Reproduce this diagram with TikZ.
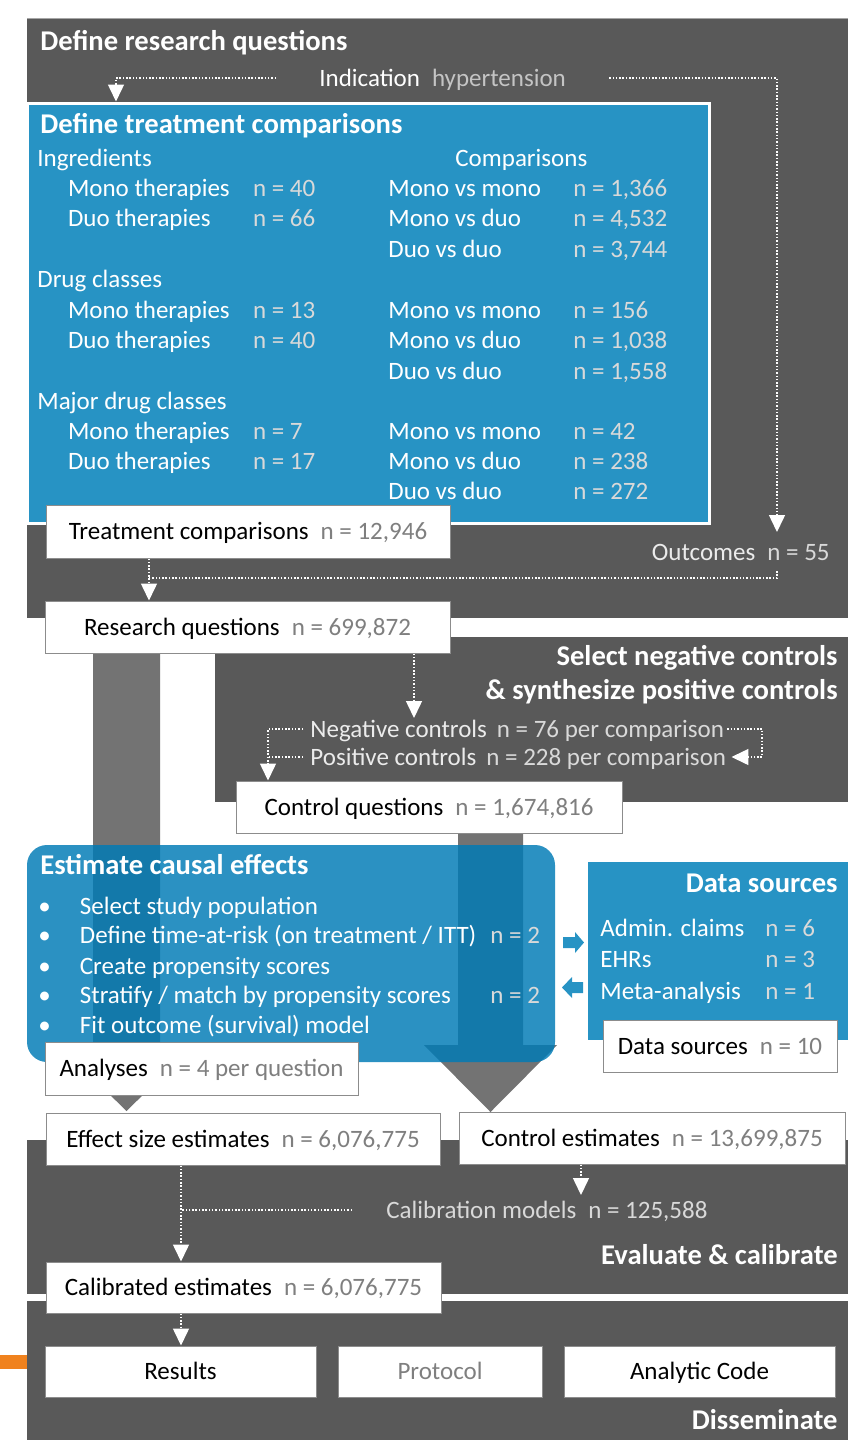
\documentclass[tikz,border=0pt]{standalone}
\usepackage{fontspec}
\setmainfont{Carlito}
\usetikzlibrary{arrows.meta,calc}
\definecolor{panelgray}{HTML}{595959}
\definecolor{tblue}{RGB}{39,147,196}
\definecolor{eblue}{RGB}{0,123,182}
\definecolor{bargray}{HTML}{737373}
\definecolor{ngray}{HTML}{7F7F7F}
\definecolor{lgray}{HTML}{D9D9D9}
\definecolor{lgrayb}{HTML}{C4C4C4}
\definecolor{borderg}{HTML}{8C8C8C}
\definecolor{toplinegray}{HTML}{A6A6A6}
\definecolor{orng}{HTML}{F0821E}
\begin{document}
\begin{tikzpicture}[x=0.5pt,y=-0.5pt,
  every node/.style={font=\fontsize{12.5}{14}\selectfont, inner sep=0pt, text height=0.8em, text depth=0pt},
  lbl/.style={anchor=west, text=white},
  lblr/.style={anchor=east, text=white},
  hd/.style={font=\fontsize{14.3}{16}\selectfont\bfseries, text=white},
  nv/.style={anchor=west, text=lgray},
  wbox/.style={draw=borderg, line width=0.5pt, fill=white, text=black},
  darr/.style={draw=white, line width=0.75pt, dash pattern=on 0.75pt off 0.9pt, -{Triangle[width=8pt,length=8.5pt]}},
  dline/.style={draw=white, line width=0.75pt, dash pattern=on 0.75pt off 0.9pt},
  panel/.style={fill=panelgray},
]
\useasboundingbox (0,0) rectangle (848,1440);

% ---------- panels ----------
\fill[panel] (27,18) rectangle (848,618);
\draw[toplinegray, line width=0.5pt] (27,18) -- (848,18);
\fill[panel] (215,637) rectangle (848,802);
\fill[panel] (27,1140) rectangle (848,1294);
\fill[panel] (27,1301) rectangle (848,1440);
\fill[orng] (0,1355) rectangle (27,1369);

% ---------- wide gray arrows ----------
\fill[bargray] (93,653) -- (160,653) -- (160,1046) -- (193,1046) -- (126.5,1111) -- (60,1046) -- (93,1046) -- cycle;
\fill[bargray] (458,833) -- (523,833) -- (523,1045) -- (557,1045) -- (490.5,1112) -- (424,1045) -- (458,1045) -- cycle;

% ---------- blue boxes ----------
\node[fill=tblue, draw=white, line width=1.5pt, minimum width=341pt, minimum height=210pt] (tbox) at (368,313) {};
\node[fill=eblue, fill opacity=0.83, rounded corners=10pt, minimum width=264pt, minimum height=108.5pt] (ebox) at (291,953.5) {};
\node[fill=tblue, minimum width=130pt, minimum height=89pt] (dbox) at (718,951) {};

% block arrows between estimate box and data sources
\fill[tblue] (563,937) -- (575,937) -- (575,932) -- (584,942.5) -- (575,953) -- (575,948) -- (563,948) -- cycle;
\fill[tblue] (583,982) -- (572,982) -- (572,977) -- (562,987.5) -- (572,998) -- (572,993) -- (583,993) -- cycle;

% ---------- panel 1 ----------
\node[hd, anchor=west] (t1) at (40,42) {Define research questions};
\node[lbl] (ind) at (319,78) {Indication\hspace{6pt}\textcolor{lgrayb}{hypertension}};
\node[hd, anchor=west] (t2) at (40,125) {Define treatment comparisons};
\node[lbl] (ing) at (37,158) {Ingredients};
\node[lbl] (cmp) at (455,158) {Comparisons};

\node[lbl] (a1) at (67.6,188) {Mono therapies};
\node[nv] (a1n) at (252.6,188) {n = 40};
\node[lbl] (b1) at (388,188) {Mono vs mono};
\node[nv] (b1n) at (573,188) {n = 1,366};
\node[lbl] (a2) at (67.6,218) {Duo therapies};
\node[nv] (a2n) at (252.6,218) {n = 66};
\node[lbl] (b2) at (388,218) {Mono vs duo};
\node[nv] (b2n) at (573,218) {n = 4,532};
\node[lbl] (b3) at (388,249) {Duo vs duo};
\node[nv] (b3n) at (573,249) {n = 3,744};

\node[lbl] (dcl) at (37,279) {Drug classes};
\node[lbl] (a4) at (67.6,310) {Mono therapies};
\node[nv] (a4n) at (252.6,310) {n = 13};
\node[lbl] (b4) at (388,310) {Mono vs mono};
\node[nv] (b4n) at (573,310) {n = 156};
\node[lbl] (a5) at (67.6,340) {Duo therapies};
\node[nv] (a5n) at (252.6,340) {n = 40};
\node[lbl] (b5) at (388,340) {Mono vs duo};
\node[nv] (b5n) at (573,340) {n = 1,038};
\node[lbl] (b6) at (388,371) {Duo vs duo};
\node[nv] (b6n) at (573,371) {n = 1,558};

\node[lbl] (mdc) at (37,401) {Major drug classes};
\node[lbl] (a7) at (67.6,431) {Mono therapies};
\node[nv] (a7n) at (252.6,431) {n = 7};
\node[lbl] (b7) at (388,431) {Mono vs mono};
\node[nv] (b7n) at (573,431) {n = 42};
\node[lbl] (a8) at (67.6,461) {Duo therapies};
\node[nv] (a8n) at (252.6,461) {n = 17};
\node[lbl] (b8) at (388,461) {Mono vs duo};
\node[nv] (b8n) at (573,461) {n = 238};
\node[lbl] (b9) at (388,491) {Duo vs duo};
\node[nv] (b9n) at (573,491) {n = 272};

\node[wbox, minimum width=202pt, minimum height=26.5pt] (tc) at (248,531.5) {Treatment comparisons\hspace{6pt}\textcolor{ngray}{n = 12,946}};
\node[lblr, text=lgray] (oc) at (830,552) {\textcolor{white!92!black}{Outcomes}\hspace{6pt}n = 55};
\node[wbox, minimum width=202.5pt, minimum height=26pt] (rq) at (247.5,627) {Research questions\hspace{6pt}\textcolor{ngray}{n = 699,872}};

% ---------- panel 2 ----------
\node[hd, anchor=east] (t3) at (838,657) {Select negative controls};
\node[hd, anchor=east] (t4) at (838,691) {\& synthesize positive controls};
\node[lbl] (negc) at (310,729) {\textcolor{white!92!black}{Negative controls}\hspace{5pt}\textcolor{lgray}{n = 76 per comparison}};
\node[lbl] (posc) at (310,757) {\textcolor{white!92!black}{Positive controls}\hspace{5pt}\textcolor{lgray}{n = 228 per comparison}};
\node[wbox, minimum width=193pt, minimum height=26pt] (cq) at (429,807) {Control questions\hspace{6pt}\textcolor{ngray}{n = 1,674,816}};

% ---------- estimate causal effects ----------
\node[hd, anchor=west] (t5) at (40,866) {Estimate causal effects};
\node[lbl] (u1) at (38,906) {\textbullet};
\node[lbl] (s1) at (79.5,906) {Select study population};
\node[lbl] (u2) at (38,935) {\textbullet};
\node[lbl] (s2) at (79.5,935) {Define time-at-risk (on treatment / ITT)};
\node[nv] (s2n) at (490,935) {n = 2};
\node[lbl] (u3) at (38,966) {\textbullet};
\node[lbl] (s3) at (79.5,966) {Create propensity scores};
\node[lbl] (u4) at (38,995) {\textbullet};
\node[lbl] (s4) at (79.5,995) {Stratify / match by propensity scores};
\node[nv] (s4n) at (490,995) {n = 2};
\node[lbl] (u5) at (38,1025) {\textbullet};
\node[lbl] (s5) at (79.5,1025) {Fit outcome (survival) model};
\node[wbox, minimum width=156.5pt, minimum height=26.5pt] (an) at (201.5,1068.5) {Analyses\hspace{6pt}\textcolor{ngray}{n = 4 per question}};

% ---------- data sources ----------
\node[hd, anchor=east] (t6) at (838,884) {Data sources};
\node[lbl] (d1) at (600,928) {Admin. claims};
\node[nv] (d1n) at (765,928) {n = 6};
\node[lbl] (d2) at (600,959) {EHRs};
\node[nv] (d2n) at (765,959) {n = 3};
\node[lbl] (d3) at (600,991) {Meta-analysis};
\node[nv] (d3n) at (765,991) {n = 1};
\node[wbox, minimum width=117pt, minimum height=26pt] (dsn) at (720,1046) {Data sources\hspace{6pt}\textcolor{ngray}{n = 10}};

% ---------- evaluate & calibrate ----------
\node[wbox, minimum width=197pt, minimum height=26pt] (es) at (243,1139) {Effect size estimates\hspace{6pt}\textcolor{ngray}{n = 6,076,775}};
\node[wbox, minimum width=193pt, minimum height=26pt] (ce) at (652,1138) {Control estimates\hspace{6pt}\textcolor{ngray}{n = 13,699,875}};
\node[lbl, text=lgray] (calm) at (386,1210) {Calibration models\hspace{6pt}n = 125,588};
\node[hd, anchor=east] (t7) at (838,1256) {Evaluate \& calibrate};
\node[wbox, minimum width=197.5pt, minimum height=25.5pt] (cal) at (243.5,1287.5) {Calibrated estimates\hspace{6pt}\textcolor{ngray}{n = 6,076,775}};

% ---------- disseminate ----------
\node[wbox, minimum width=135.5pt, minimum height=25.5pt] (res) at (180.5,1371.5) {Results};
\node[wbox, minimum width=102pt, minimum height=25.5pt, text=ngray] (prot) at (440,1371.5) {Protocol};
\node[wbox, minimum width=135.5pt, minimum height=25.5pt] (code) at (699.5,1371.5) {Analytic Code};
\node[hd, anchor=east] (t8) at (838,1421) {Disseminate};

% ---------- dotted connectors ----------
\coordinate (x116) at (116,0);
\coordinate (otip) at (777,532);
\coordinate (j1) at (777,571);
\coordinate (j2) at (149,578);
\coordinate (ntip) at (414,718);
\coordinate (x268) at (268,0);
\coordinate (x762) at (762,0);
\coordinate (ctip) at (581,1195);
\coordinate (x181) at (181,0);

\draw[darr] ([shift={(-43,0)}]ind.west) -| (tbox.north -| x116);
\draw[darr] ([shift={(43,0)}]ind.east) -| (otip);
\draw[dline] (j1) |- (j2);
\draw[darr] (tc.south -| j2) -- (rq.north -| j2);
\draw[darr] (rq.south -| ntip) -- (ntip);
\draw[darr] ([shift={(-7,0)}]negc.west) -| (cq.north -| x268);
\draw[dline] ([shift={(-7,0)}]posc.west) -- (posc.west -| x268);
\draw[darr] ([shift={(3,0)}]negc.east) -| (x762 |- posc.east) -- ([shift={(5,0)}]posc.east);
\draw[darr] (ce.south -| ctip) -- (ctip);
\draw[darr] (es.south -| x181) -- (cal.north -| x181);
\draw[dline] ([shift={(-34,0)}]calm.west) -- (calm.west -| x181);
\draw[darr] (cal.south -| x181) -- (res.north -| x181);
\end{tikzpicture}
\end{document}
